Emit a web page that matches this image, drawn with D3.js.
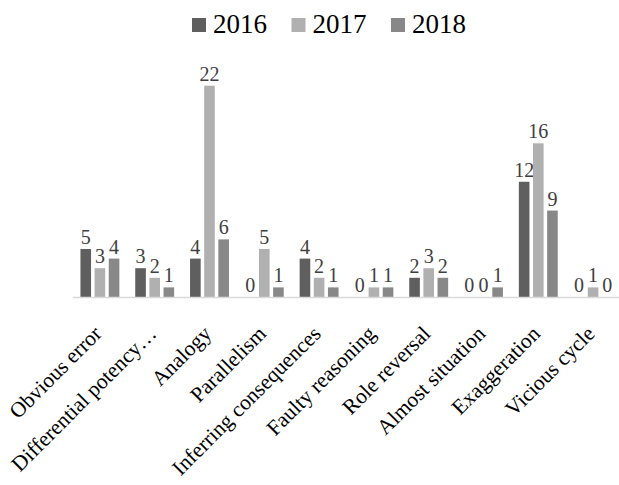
<!DOCTYPE html>
<html><head><meta charset="utf-8">
<script src="https://cdn.jsdelivr.net/npm/d3@7"></script>
<style>body{margin:0;background:#fff}svg{display:block}svg text{font-family:"Liberation Serif","DejaVu Serif",serif}</style>
</head><body>
<script>
const categories = ["Obvious error","Differential potency…","Analogy","Parallelism","Inferring consequences","Faulty reasoning","Role reversal","Almost situation","Exaggeration","Vicious cycle"];
const seriesNames = ["2016","2017","2018"];
const values2016 = [5,3,4,0,4,0,2,0,12,0];
const values2017 = [3,2,22,5,2,1,3,0,16,1];
const values2018 = [4,1,6,1,1,1,2,1,9,0];
const colors = ["#5f5f5f","#b0b0b0","#888888"];

const W=619,H=485;
const svg=d3.select("body").append("svg").attr("width",W).attr("height",H);
const x0=d3.scaleBand().domain(categories).range([72.5,620.5]).paddingInner(0.29).paddingOuter(0.145);
const x1=d3.scaleBand().domain(seriesNames).range([0,x0.bandwidth()]).paddingInner(0.25);
const y=d3.scaleLinear().domain([0,22]).range([297,85.7]);
const series=[values2016,values2017,values2018];

const g=svg.append("g");
series.forEach((vals,si)=>{
  const gs=g.append("g");
  gs.selectAll("rect").data(vals).join("rect")
    .attr("x",(d,i)=>x0(categories[i])+x1(seriesNames[si]))
    .attr("y",d=>y(d)).attr("width",x1.bandwidth()).attr("height",d=>y(0)-y(d))
    .attr("fill",colors[si]);
  gs.selectAll("text").data(vals).join("text")
    .attr("x",(d,i)=>x0(categories[i])+x1(seriesNames[si])+x1.bandwidth()/2)
    .attr("y",d=>y(d)-5).attr("text-anchor","middle")
    .style("font-size","20px").attr("fill","#404040")
    .text(d=>d);
});
// axis
const ax=svg.append("g").attr("transform",`translate(0,${y(0)})`)
  .call(d3.axisBottom(x0).tickSize(0).tickPadding(0));
ax.attr("font-family",null).attr("font-size",null);
ax.select(".domain").attr("stroke","#d9d9d9").attr("stroke-width",1.5);
ax.selectAll(".tick text")
  .style("font-size","21.5px").attr("fill","#000")
  .attr("text-anchor","end").attr("dy",0)
  .attr("transform","translate(3,38) rotate(-45)");

// legend
const lg=svg.append("g").attr("transform","translate(192,18)");
seriesNames.forEach((s,i)=>{
  const it=lg.append("g").attr("transform",`translate(${i*99.5},0)`);
  it.append("rect").attr("width",14).attr("height",14).attr("fill",colors[i]);
  it.append("text").attr("x",21).attr("y",14.5)
    .style("font-size","27px").attr("fill","#000").text(s);
});
</script>
</body></html>
